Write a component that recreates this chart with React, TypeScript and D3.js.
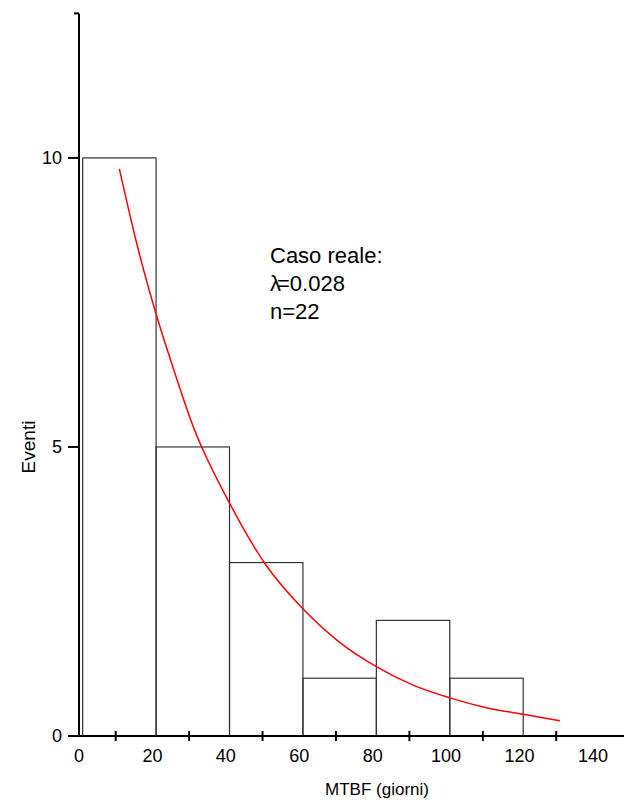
import React from "react";
import * as d3 from "d3";

// histogram bins (left edge, count)
const binStarts = [1, 21, 41, 61, 81, 101];
const binWidth = 20;
const counts = [10, 5, 3, 1, 2, 1];

// fitted exponential curve
const curveX = [11, 16, 21, 26, 31, 41, 51, 61, 71, 81, 91, 101, 111, 121, 131];
const curveY = [9.81, 8.45, 7.3, 6.3, 5.37, 4.03, 2.95, 2.2, 1.62, 1.2, 0.88, 0.66, 0.49, 0.375, 0.265];

const xLabels = [0, 20, 40, 60, 80, 100, 120, 140];
const xTicks = [10, 30, 50, 70, 90, 110, 130];
const yLabels = [0, 5, 10];

const noteTitle = "Caso reale:";
const lambdaText = "λ=0.028";
const nText = "n=22";

const W = 624;
const H = 803;
const font = "'Liberation Sans', Arial, sans-serif";

export default function App() {
  const x = d3.scaleLinear().domain([0, 150]).range([79, 79 + 150 * 3.671]);
  const y = d3.scaleLinear().domain([0, 12.5]).range([736, 13.4]);

  const line = d3
    .line<number>()
    .x((d, i) => x(curveX[i]))
    .y((d) => y(d))
    .curve(d3.curveMonotoneX);

  return (
    <svg
      width={W}
      height={H}
      style={{ position: "absolute", left: 0, top: 0, display: "block", background: "#fff" }}
      fontFamily={font}
    >
      {/* bars */}
      {counts.map((c, i) => (
        <rect
          key={i}
          x={x(binStarts[i])}
          y={y(c)}
          width={x(binStarts[i] + binWidth) - x(binStarts[i])}
          height={y(0) - y(c)}
          fill="none"
          stroke="#333"
          strokeWidth={1.2}
        />
      ))}

      {/* curve */}
      <path d={line(curveY) || ""} fill="none" stroke="#ff0000" strokeWidth={1.5} />

      {/* x axis */}
      <line x1={x(0) - 11} x2={W} y1={y(0)} y2={y(0)} stroke="#000" strokeWidth={2} />
      {xTicks.map((t) => (
        <line key={t} x1={x(t)} x2={x(t)} y1={y(0) - 5} y2={y(0) + 5} stroke="#000" strokeWidth={2} />
      ))}
      {xLabels.map((t) => (
        <text key={t} x={x(t)} y={762} fontSize={18} textAnchor="middle" fill="#000">
          {t}
        </text>
      ))}
      <text x={377} y={795} fontSize={17} textAnchor="middle" fill="#000">
        MTBF (giorni)
      </text>

      {/* y axis */}
      <line x1={x(0)} x2={x(0)} y1={y(12.5)} y2={y(0)} stroke="#000" strokeWidth={2} />
      <line x1={x(0) - 5} x2={x(0)} y1={y(12.5)} y2={y(12.5)} stroke="#000" strokeWidth={2} />
      {yLabels.map((t) => (
        <g key={t}>
          <line x1={x(0) - 11} x2={x(0)} y1={y(t)} y2={y(t)} stroke="#000" strokeWidth={2} />
          <text x={62} y={y(t) + 6.4} fontSize={18} textAnchor="end" fill="#000">
            {t}
          </text>
        </g>
      ))}
      <text
        transform={`translate(${35},${447}) rotate(-90)`}
        fontSize={19}
        textAnchor="middle"
        fill="#000"
      >
        Eventi
      </text>

      {/* annotation */}
      <text x={270} y={263} fontSize={22} fill="#000">
        {noteTitle}
      </text>
      <text x={270} y={291} fontSize={22} fill="#000" dx="0 -4">
        {lambdaText}
      </text>
      <text x={270} y={319} fontSize={22} fill="#000">
        {nText}
      </text>
    </svg>
  );
}
